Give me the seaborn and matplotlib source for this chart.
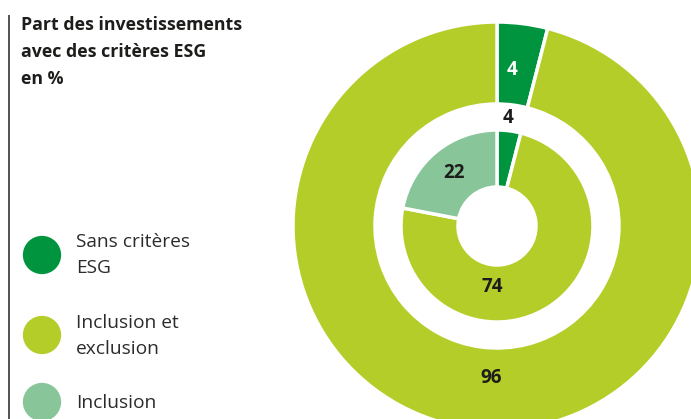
import matplotlib
matplotlib.use("Agg")
import matplotlib.pyplot as plt
import seaborn as sns
import pandas as pd

# ---- data ----
categories = ["Sans critères ESG", "Inclusion et exclusion", "Inclusion"]
legend_labels = ["Sans critères\nESG", "Inclusion et\nexclusion", "Inclusion"]
outer_values = [4, 96]          # Sans critères ESG, Inclusion et exclusion
inner_values = [4, 74, 22]      # Sans critères ESG, Inclusion et exclusion, Inclusion
title = "Part des investissements\navec des critères ESG\nen %"

colors = ["#00943F", "#B5CD29", "#88C69A"]
TXT = "#1D1D1B"

sns.set_theme(style="white")
plt.rcParams["font.family"] = ["Open Sans", "DejaVu Sans"]

W, H = 691, 419
fig = plt.figure(figsize=(W / 100, H / 100), dpi=100)
ax = fig.add_axes([0, 0, 1, 1])

def Y(y):
    return H - y

cx, cy = 497, Y(226)

outer_w, outer_t, outer_a = ax.pie(
    outer_values, colors=colors[:2], radius=204, center=(cx, cy),
    startangle=90, counterclock=False,
    autopct=lambda p: f"{p:.0f}", pctdistance=0.8,
    wedgeprops=dict(width=82, edgecolor="white", linewidth=2.5),
    textprops=dict(fontsize=13.5, fontweight="bold", color=TXT))
inner_w, inner_t, inner_a = ax.pie(
    inner_values, colors=colors, radius=96, center=(cx, cy),
    startangle=90, counterclock=False,
    autopct=lambda p: f"{p:.0f}", pctdistance=0.7,
    wedgeprops=dict(width=57, edgecolor="white", linewidth=2.5),
    textprops=dict(fontsize=13.5, fontweight="bold", color=TXT))

# label placement tweaks (pixel positions)
outer_a[0].set_color("white")
outer_a[0].set_position((512, Y(70)))
outer_a[1].set_position((491, Y(378)))
inner_a[0].set_position((508, Y(118)))
inner_a[1].set_position((492, Y(287)))
inner_a[2].set_position((454, Y(173)))

ax.set_xlim(0, W)
ax.set_ylim(0, H)
ax.set_aspect("equal")
ax.axis("off")

# vertical rule
ax.plot([9.5, 9.5], [Y(15), Y(419)], color="#333333", lw=1.2, solid_capstyle="butt")

# title
ax.text(21, Y(16), title, ha="left", va="top", fontsize=12.8, fontweight="bold",
        color=TXT, linespacing=1.63)

# legend
leg = pd.DataFrame({"cat": categories, "x": [42, 42, 42],
                    "y": [Y(255), Y(335), Y(402)]})
sns.scatterplot(data=leg, x="x", y="y", hue="cat", palette=colors, s=760,
                linewidth=0, legend=False, ax=ax)
ax.set_xlim(0, W)
ax.set_ylim(0, H)
ax.axis("off")
for lbl, yy in zip(legend_labels, [255, 336, 403]):
    ax.text(76, Y(yy), lbl, ha="left", va="center", fontsize=13.8,
            color="#2B2B2B", linespacing=1.53)

fig.savefig("out.png", dpi=100)
